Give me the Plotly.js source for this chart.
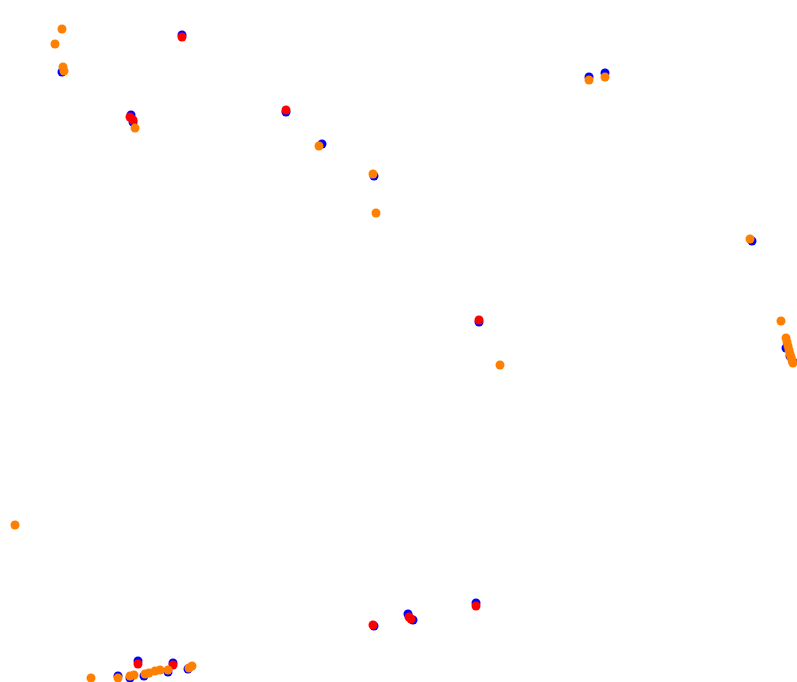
<!DOCTYPE html>
<html>
<head>
<meta charset="utf-8">
<script src="https://cdn.plot.ly/plotly-3.0.1.min.js"></script>
<style>
html,body{margin:0;padding:0;background:#fff;}
#chart{width:797px;height:682px;}
</style>
</head>
<body>
<div id="chart"></div>
<script>
// Series values (x, y)
const blueX = [62, 182, 131, 133, 286, 322, 374, 589, 605, 752, 479, 786, 790, 793, 408, 413, 476, 374, 118, 130, 138, 144, 168, 173, 188];
const blueY = [72, 35, 115, 122, 112, 144, 176, 77, 73, 241, 322, 348, 356, 362, 614, 620, 603, 626, 676, 678, 661, 676, 672, 663, 669];

const redX = [182, 130, 133, 286, 479, 373, 409, 411, 476, 138, 173];
const redY = [37, 117, 120, 110, 320, 625, 617, 619, 606, 664, 665];

const orangeX = [62, 55, 63, 64, 135, 319, 373, 376, 589, 605, 750, 781, 786, 787, 788, 789, 790, 791, 792, 793, 500, 15, 91, 118, 130, 134, 145, 149, 155, 160, 168, 189, 192];
const orangeY = [29, 44, 67, 71, 128, 146, 174, 213, 80, 77, 239, 321, 338, 342, 346, 350, 354, 357, 360, 363, 365, 525, 678, 678, 676, 675, 674, 673, 671, 670, 670, 668, 666];

function trace(x, y, color) {
  return {
    x: x, y: y, type: 'scatter', mode: 'markers',
    marker: {color: color, size: 9, line: {width: 0}},
    hoverinfo: 'skip', cliponaxis: true
  };
}

const data = [
  trace(blueX, blueY, '#0000ff'),
  trace(redX, redY, '#ff0000'),
  trace(orangeX, orangeY, '#ff8000')
];

const layout = {
  width: 797, height: 682,
  margin: {l: 0, r: 0, t: 0, b: 0, pad: 0},
  paper_bgcolor: '#ffffff', plot_bgcolor: '#ffffff',
  showlegend: false,
  xaxis: {range: [0, 797], visible: false, showgrid: false, zeroline: false, fixedrange: true},
  yaxis: {range: [682, 0], visible: false, showgrid: false, zeroline: false, fixedrange: true}
};

Plotly.newPlot('chart', data, layout, {displayModeBar: false, staticPlot: true});
</script>
</body>
</html>
